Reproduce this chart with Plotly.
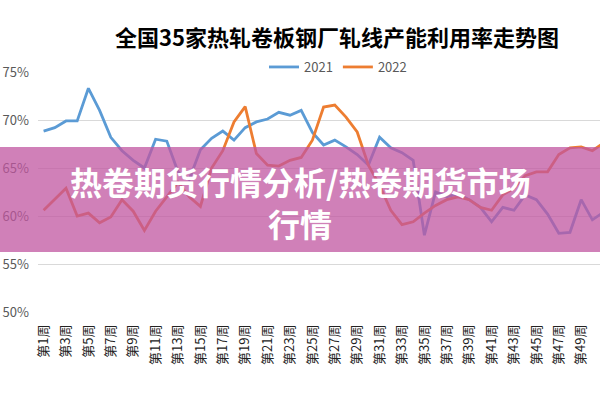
import plotly.graph_objects as go

weeks = [f"第{i}周" for i in range(1, 52)]
tick_weeks = weeks[0::2]

util_2021 = [68.85, 69.2, 69.9, 69.9, 73.3, 71.0, 68.2, 66.8, 65.8, 65.0,
             68.0, 67.8, 64.6, 63.8, 66.9, 68.1, 68.85, 67.9, 69.2, 69.8,
             70.1, 70.8, 70.5, 71.0, 68.7, 67.4, 67.9, 67.2, 66.4, 65.3,
             68.2, 67.1, 66.6, 65.8, 58.0, 62.5, 62.0, 62.3, 61.7, 60.9,
             59.4, 60.9, 60.6, 62.2, 61.7, 60.2, 58.2, 58.3, 61.7, 59.6,
             60.4]
util_2022 = [60.6, 61.7, 62.9, 60.0, 60.3, 59.3, 59.9, 61.7, 60.5, 58.5,
             60.5, 62.0, 63.5, 62.0, 61.0, 65.0, 66.8, 69.8, 71.4, 66.5,
             65.3, 65.2, 65.8, 66.1, 67.9, 71.35, 71.55, 70.3, 68.75, 65.3,
             63.2, 60.6, 59.1, 59.4, 60.3, 61.1, 61.7, 62.0, 61.7, 60.9,
             60.6, 62.2, 62.9, 64.2, 64.6, 64.6, 66.4, 67.1, 67.2, 66.8,
             67.6]

title_text = "全国35家热轧卷板钢厂轧线产能利用率走势图"
banner_line1 = "热卷期货行情分析/热卷期货市场"
banner_line2 = "行情"

FONT = "Noto Sans CJK SC"
FIG_W, FIG_H = 600, 400
PLOT_L, PLOT_T, PLOT_B = 38, 72, 312
PLOT_W, PLOT_H = FIG_W - PLOT_L, PLOT_B - PLOT_T


def px_y(y):  # reference pixel -> paper
    return (PLOT_B - y) / PLOT_H


def px_x(x):
    return (x - PLOT_L) / PLOT_W


fig = go.Figure()
fig.add_trace(go.Scatter(x=weeks, y=util_2021, name="2021", mode="lines",
                         line=dict(color="#5b9bd5", width=2.8)))
fig.add_trace(go.Scatter(x=weeks, y=util_2022, name="2022", mode="lines",
                         line=dict(color="#ed7d31", width=2.8)))

fig.update_layout(
    width=FIG_W, height=FIG_H,
    margin=dict(l=PLOT_L, r=0, t=PLOT_T, b=FIG_H - PLOT_B, autoexpand=False),
    paper_bgcolor="white", plot_bgcolor="white",
    font=dict(family=FONT, color="#595959", size=12),
    title=dict(text=f"<b>{title_text}</b>", x=337 / FIG_W, xanchor="center",
               y=1 - 38 / FIG_H, yanchor="middle",
               font=dict(family=FONT, size=22, color="#000000")),
    legend=dict(orientation="h", x=px_x(338), xanchor="center", y=px_y(67), yanchor="middle",
                font=dict(size=13, color="#595959"), bgcolor="rgba(0,0,0,0)"),
    showlegend=True,
)
fig.update_xaxes(type="category", range=[-0.5, 49.68], tickvals=tick_weeks,
                 tickangle=-90, showgrid=False, showline=False, ticks="",
                 automargin=False, ticklabelstandoff=9,
                 tickfont=dict(size=13, color="#222222", family=FONT))
fig.update_yaxes(range=[50, 75], dtick=5, ticksuffix="%", showgrid=True,
                 gridcolor="#d9d9d9", gridwidth=1, zeroline=False, showline=False,
                 ticks="", ticklabelstandoff=8, automargin=False,
                 tickfont=dict(size=13, color="#595959", family=FONT))

# pink banner overlay
fig.add_shape(type="rect", xref="paper", yref="paper",
              x0=px_x(-5), x1=px_x(610), y0=px_y(252), y1=px_y(147),
              fillcolor="rgba(192,86,160,0.75)", line=dict(width=0), layer="above")
fig.add_annotation(xref="paper", yref="paper", x=px_x(300), y=px_y(181),
                   text=f"<b>{banner_line1}</b>", showarrow=False,
                   font=dict(family=FONT, size=32, color="white"))
fig.add_annotation(xref="paper", yref="paper", x=px_x(300), y=px_y(223),
                   text=f"<b>{banner_line2}</b>", showarrow=False,
                   font=dict(family=FONT, size=32, color="white"))

fig.write_html("out.html",
               config={"displayModeBar": False},
               post_script="document.body.style.margin='0';document.body.style.overflow='hidden';")
